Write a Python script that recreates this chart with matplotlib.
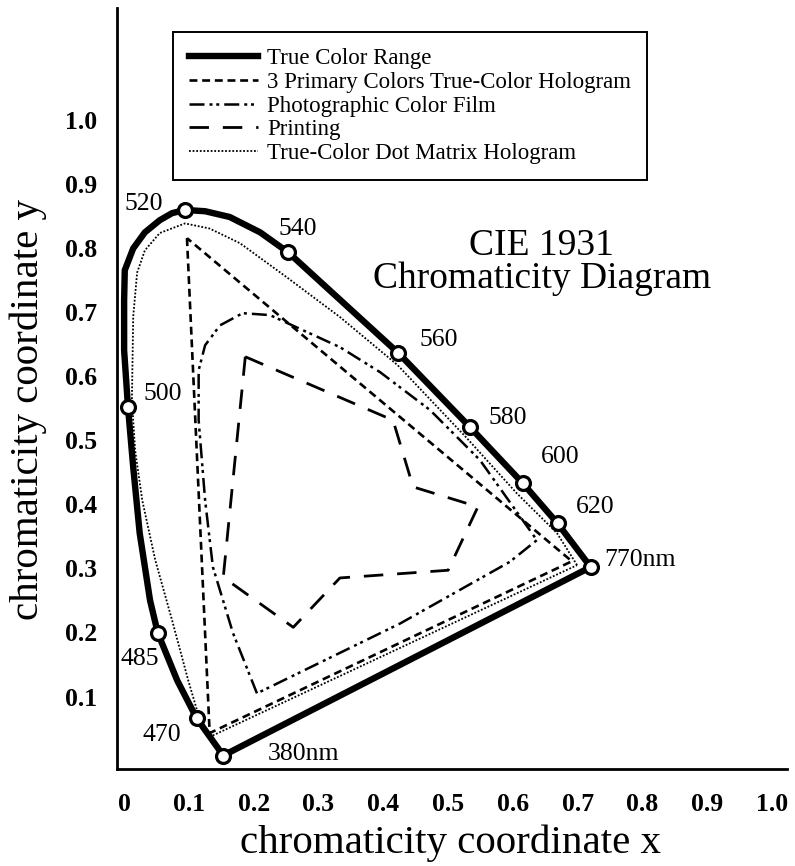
import matplotlib
matplotlib.use("Agg")
import matplotlib.pyplot as plt

plt.rcParams['font.family'] = ['Liberation Serif', 'DejaVu Serif']

# ---------------- data (chromaticity coordinates) ----------------
locus_x = [0.153, 0.112, 0.082, 0.052, 0.040, 0.024, 0.014, 0.006, 0.000, 0.000, 0.001,
           0.014, 0.032, 0.055, 0.074, 0.094, 0.125, 0.163, 0.210, 0.253, 0.423, 0.534,
           0.615, 0.669, 0.720, 0.153]
locus_y = [0.008, 0.066, 0.125, 0.199, 0.250, 0.355, 0.458, 0.551, 0.640, 0.718, 0.765,
           0.799, 0.824, 0.843, 0.854, 0.859, 0.857, 0.848, 0.824, 0.793, 0.636, 0.520,
           0.433, 0.370, 0.302, 0.008]

marker_nm = ['380nm', '470', '485', '500', '520', '540', '560', '580', '600', '620', '770nm']
marker_x = [0.153, 0.112, 0.052, 0.006, 0.094, 0.253, 0.423, 0.534, 0.615, 0.669, 0.720]
marker_y = [0.008, 0.066, 0.199, 0.551, 0.859, 0.793, 0.636, 0.520, 0.433, 0.370, 0.302]

primary_x = [0.097, 0.132, 0.691, 0.097]
primary_y = [0.815, 0.043, 0.311, 0.815]

photo_x = [0.205, 0.168, 0.137, 0.125, 0.115, 0.115, 0.125, 0.148, 0.183, 0.225, 0.333,
           0.395, 0.472, 0.549, 0.637, 0.595, 0.426, 0.205]
photo_y = [0.105, 0.199, 0.302, 0.406, 0.531, 0.609, 0.648, 0.679, 0.698, 0.695, 0.645,
           0.606, 0.547, 0.469, 0.344, 0.310, 0.214, 0.105]

print_x = [0.187, 0.415, 0.446, 0.546, 0.500, 0.333, 0.261, 0.153, 0.187]
print_y = [0.630, 0.531, 0.427, 0.396, 0.297, 0.285, 0.208, 0.286, 0.630]

dot_x = [0.699, 0.668, 0.606, 0.529, 0.422, 0.333, 0.251, 0.179, 0.132, 0.094, 0.055,
         0.032, 0.020, 0.014, 0.012, 0.017, 0.028, 0.048, 0.074, 0.099, 0.117, 0.132, 0.699]
dot_y = [0.305, 0.355, 0.417, 0.503, 0.617, 0.692, 0.754, 0.807, 0.830, 0.838, 0.823,
         0.796, 0.761, 0.692, 0.562, 0.484, 0.406, 0.313, 0.219, 0.125, 0.063, 0.037, 0.305]

series_labels = ['True Color Range', '3 Primary Colors True-Color Hologram',
                 'Photographic Color Film', 'Printing', 'True-Color Dot Matrix Hologram']

tick_vals = [0.0, 0.1, 0.2, 0.3, 0.4, 0.5, 0.6, 0.7, 0.8, 0.9, 1.0]
x_tick_labels = ['0', '0.1', '0.2', '0.3', '0.4', '0.5', '0.6', '0.7', '0.8', '0.9', '1.0']
y_tick_vals = [0.1, 0.2, 0.3, 0.4, 0.5, 0.6, 0.7, 0.8, 0.9, 1.0]
y_tick_labels = ['0.1', '0.2', '0.3', '0.4', '0.5', '0.6', '0.7', '0.8', '0.9', '1.0']

# label offsets (points) relative to each marker: layout only
label_offsets = {'380nm': (32, 1, 'left'), '470': (-25, -12, 'center'), '485': (-13, -19, 'center'),
                 '500': (25, 10, 'center'), '520': (-30, 4, 'center'), '540': (7, 17, 'center'),
                 '560': (29, 9, 'center'), '580': (27, 7, 'center'), '600': (27, 19, 'center'),
                 '620': (27, 12, 'center'), '770nm': (10, 5, 'left')}

# ---------------- figure ----------------
W, H = 795, 866
fig = plt.figure(figsize=(W / 100, H / 100), dpi=100)
ax = fig.add_axes([117 / W, 1 - 769 / H, (787 - 117) / W, (769 - 8) / H])
ax.set_xlim(-0.011, 1.023)
ax.set_ylim(-0.013, 1.174)

for s in ['top', 'right']:
    ax.spines[s].set_visible(False)
for s in ['left', 'bottom']:
    ax.spines[s].set_linewidth(2.0)

ax.plot(locus_x, locus_y, color='black', lw=4.6, solid_joinstyle='round', label=series_labels[0], zorder=5)
ax.plot(primary_x, primary_y, color='black', lw=1.9, dashes=(3, 1.8), label=series_labels[1], zorder=4)
ax.plot(photo_x, photo_y, color='black', lw=1.8, dashes=(6, 2, 1.2, 1.5, 1.2, 2), label=series_labels[2], zorder=4)
ax.plot(print_x, print_y, color='black', lw=2.0, dashes=(7, 5), label=series_labels[3], zorder=4)
ax.plot(dot_x, dot_y, color='black', lw=1.3, dashes=(1.0, 1.0), label=series_labels[4], zorder=4)

ax.plot(marker_x, marker_y, linestyle='none', marker='o', ms=10, mfc='white', mec='black', mew=2.3, zorder=6)

for name, mx, my in zip(marker_nm, marker_x, marker_y):
    dx, dy, ha = label_offsets[name]
    ax.annotate(name, xy=(mx, my), xytext=(dx, dy), textcoords='offset points',
                ha=ha, va='center', fontsize=18.5)

ax.text(0.634, 0.6754, 'CIE 1931', transform=ax.transAxes, ha='center', va='baseline', fontsize=27)
ax.text(0.634, 0.632, 'Chromaticity Diagram', transform=ax.transAxes, ha='center', va='baseline', fontsize=27)

ax.set_xticks(tick_vals)
ax.set_xticklabels(x_tick_labels, fontsize=18.5, fontweight='bold')
ax.set_yticks(y_tick_vals)
ax.set_yticklabels(y_tick_labels, fontsize=18.5, fontweight='bold')
ax.tick_params(axis='both', length=0)
ax.tick_params(axis='x', pad=17)
ax.tick_params(axis='y', pad=14)

ax.set_xlabel('chromaticity coordinate x', fontsize=29.5)
ax.set_ylabel('chromaticity coordinate y', fontsize=29.5)
ax.xaxis.set_label_coords((451 - 117) / 670, (769 - 843) / 761)
ax.xaxis.label.set_va('center')
ax.yaxis.set_label_coords((28 - 117) / 670, (769 - 410) / 761)
ax.yaxis.label.set_va('center')

leg = ax.legend(loc='upper left', bbox_to_anchor=(173 / W, 1 - 32 / H), bbox_transform=fig.transFigure,
                borderaxespad=0, fancybox=False, framealpha=1, edgecolor='black', fontsize=16.5,
                handlelength=3.0, handletextpad=0.42, labelspacing=0.12, borderpad=0.7)
leg.get_frame().set_linewidth(1.4)

fig.savefig('out.png', dpi=100)
